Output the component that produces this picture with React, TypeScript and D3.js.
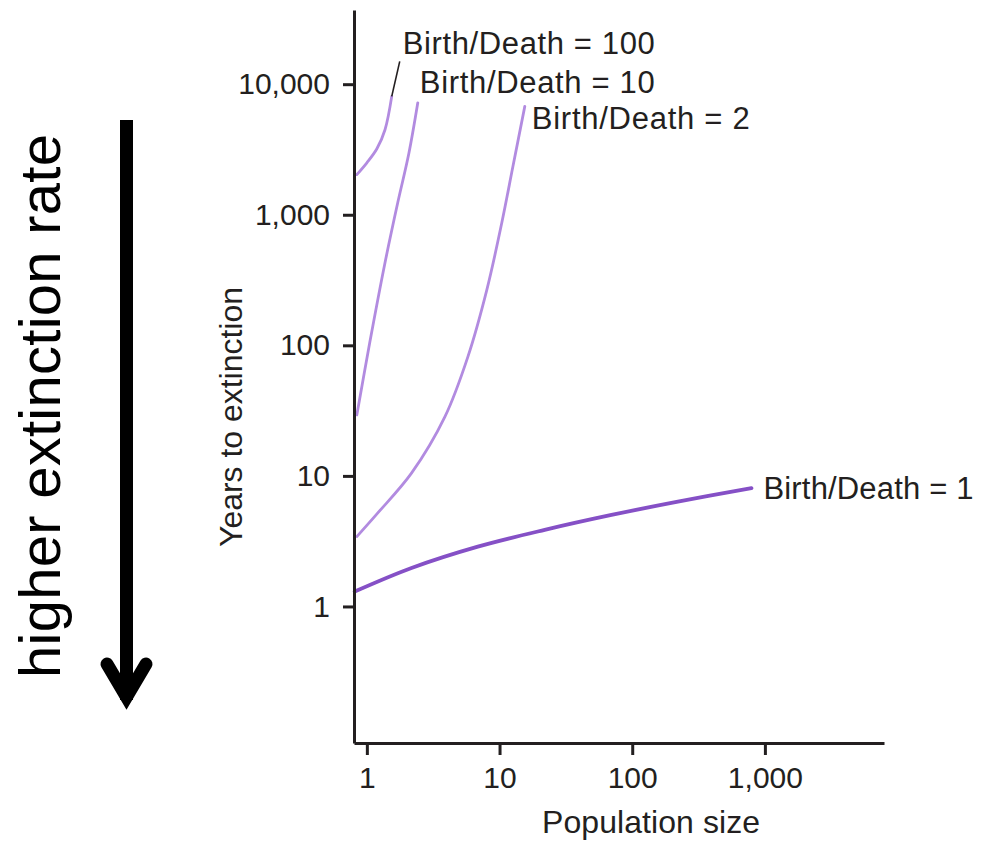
import React, { useRef, useEffect } from "react";
import * as d3 from "d3";

// tick values
const xTicks = [1, 10, 100, 1000];
const yTicks = [1, 10, 100, 1000, 10000];

// curves: population size (N) vs years to extinction (T)
const bd100N = [0.84, 1.0, 1.19, 1.37, 1.54];
const bd100T = [2030, 2500, 3200, 4480, 8070];

const bd10N = [0.84, 1.05, 1.37, 1.71, 2.07, 2.42];
const bd10T = [29.3, 104, 429, 1240, 2930, 7200];

const bd2N = [0.84, 1.21, 2.17, 3.87, 5.77, 8.02, 10.4, 12.6, 15.5];
const bd2T = [3.43, 5.21, 10.5, 28.3, 81.6, 266, 868, 2330, 6760];

const bd1N = [0.81, 2.17, 6.86, 21.9, 69.8, 221, 792];
const bd1T = [1.3, 1.97, 2.87, 3.86, 5.02, 6.35, 8.05];

const labels = ["Birth/Death = 100", "Birth/Death = 10", "Birth/Death = 2", "Birth/Death = 1"];

const ink = "#231f20";
const lavender = "#b28be0";
const purple = "#8550c6";
const font = "'Liberation Sans', Arial, Helvetica, sans-serif";

const App = () => {
  const ref = useRef<SVGSVGElement>(null);

  useEffect(() => {
    if (!ref.current) return;
    const svg = d3.select(ref.current);
    svg.selectAll("*").remove();

    const x = d3.scaleLog().domain([0.8, 7900]).range([354, 884]);
    const y = d3.scaleLog().domain([0.09, 37000]).range([743, 10]);

    const line = d3
      .line<[number, number]>()
      .x((d) => x(d[0]))
      .y((d) => y(d[1]))
      .curve(d3.curveCatmullRom.alpha(0.5));

    const zip = (a: number[], b: number[]) => a.map((v, i) => [v, b[i]] as [number, number]);

    // curves
    const series = [
      { pts: zip(bd100N, bd100T), color: lavender, w: 2.8 },
      { pts: zip(bd10N, bd10T), color: lavender, w: 2.8 },
      { pts: zip(bd2N, bd2T), color: lavender, w: 2.8 },
      { pts: zip(bd1N, bd1T), color: purple, w: 3.8 },
    ];
    svg
      .append("g")
      .selectAll("path")
      .data(series)
      .enter()
      .append("path")
      .attr("d", (d) => line(d.pts))
      .attr("fill", "none")
      .attr("stroke", (d) => d.color)
      .attr("stroke-width", (d) => d.w)
      .attr("stroke-linecap", "round");

    // axes
    const xAxis = svg
      .append("g")
      .attr("transform", "translate(0,743)")
      .call(
        d3
          .axisBottom(x)
          .tickValues(xTicks)
          .tickFormat(d3.format(","))
          .tickSize(12)
          .tickSizeOuter(0)
          .tickPadding(12)
      );
    const yAxis = svg
      .append("g")
      .attr("transform", "translate(354,0)")
      .call(
        d3
          .axisLeft(y)
          .tickValues(yTicks)
          .tickFormat(d3.format(","))
          .tickSize(11)
          .tickSizeOuter(0)
          .tickPadding(13)
      );
    [xAxis, yAxis].forEach((g) => {
      g.attr("font-family", font).attr("font-size", 30);
      g.select(".domain").attr("stroke", ink).attr("stroke-width", 3);
      g.selectAll(".tick line").attr("stroke", ink).attr("stroke-width", 3);
      g.selectAll(".tick text").attr("fill", ink);
    });

    // axis titles
    svg
      .append("text")
      .attr("x", 651)
      .attr("y", 833)
      .attr("text-anchor", "middle")
      .attr("font-family", font)
      .attr("font-size", 32)
      .attr("fill", ink)
      .attr("textLength", 218)
      .text("Population size");
    svg
      .append("text")
      .attr("transform", "translate(242,417) rotate(-90)")
      .attr("text-anchor", "middle")
      .attr("font-family", font)
      .attr("font-size", 32)
      .attr("fill", ink)
      .attr("textLength", 260)
      .text("Years to extinction");

    // curve labels, placed next to curve ends
    const end = (n: number[], t: number[]) => [x(n[n.length - 1]), y(t[t.length - 1])];
    const e100 = end(bd100N, bd100T);
    const e10 = end(bd10N, bd10T);
    const e2 = end(bd2N, bd2T);
    const e1 = end(bd1N, bd1T);

    svg
      .append("line")
      .attr("x1", e100[0])
      .attr("y1", e100[1])
      .attr("x2", e100[0] + 8)
      .attr("y2", e100[1] - 35)
      .attr("stroke", ink)
      .attr("stroke-width", 1.6);

    const lab = [
      { t: labels[0], x: e100[0] + 11, y: e100[1] - 42, len: 252 },
      { t: labels[1], x: e10[0] + 2, y: e10[1] - 10, len: 235 },
      { t: labels[2], x: e2[0] + 7, y: e2[1] + 23, len: 218 },
      { t: labels[3], x: e1[0] + 12, y: e1[1] + 11, len: 210 },
    ];
    svg
      .append("g")
      .selectAll("text")
      .data(lab)
      .enter()
      .append("text")
      .attr("x", (d) => d.x)
      .attr("y", (d) => d.y)
      .attr("font-family", font)
      .attr("font-size", 31)
      .attr("fill", ink)
      .attr("textLength", (d) => d.len)
      .text((d) => d.t);

    // side arrow
    svg
      .append("text")
      .attr("transform", "translate(60,406) rotate(-90)")
      .attr("text-anchor", "middle")
      .attr("font-family", font)
      .attr("font-size", 58)
      .attr("fill", "#000")
      .attr("textLength", 544)
      .text("higher extinction rate");
    svg
      .append("line")
      .attr("x1", 126.5)
      .attr("y1", 120)
      .attr("x2", 126.5)
      .attr("y2", 700)
      .attr("stroke", "#000")
      .attr("stroke-width", 13);
    svg
      .append("polyline")
      .attr("points", "107,664 126.5,697 146,664")
      .attr("fill", "none")
      .attr("stroke", "#000")
      .attr("stroke-width", 13)
      .attr("stroke-linecap", "round")
      .attr("stroke-linejoin", "miter");
  }, []);

  return (
    <svg
      ref={ref}
      width={981}
      height={841}
      style={{ position: "absolute", left: 0, top: 0, background: "#fff" }}
    />
  );
};

export default App;
